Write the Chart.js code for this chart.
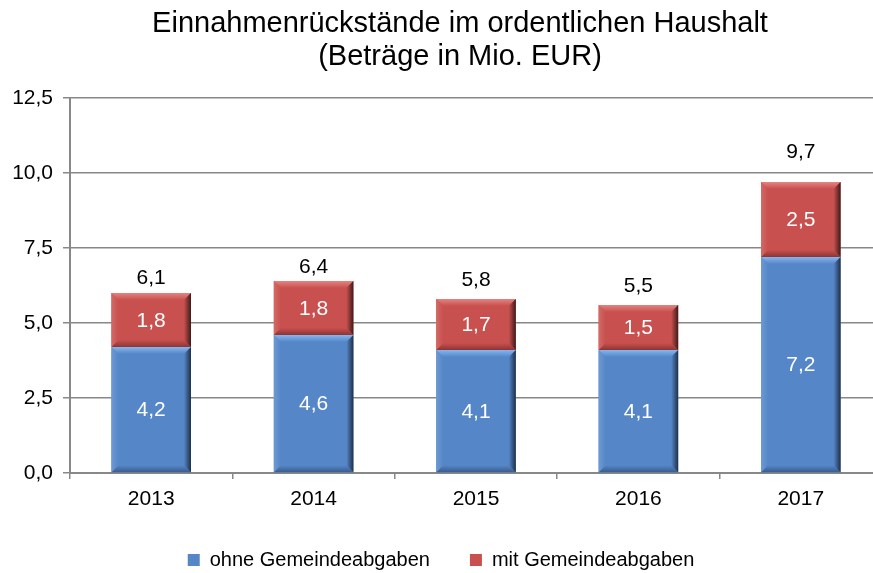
<!DOCTYPE html>
<html>
<head>
<meta charset="utf-8">
<script src="https://cdn.jsdelivr.net/npm/chart.js@4/dist/chart.umd.min.js"></script>
<style>
html,body{margin:0;padding:0;background:#fff;overflow:hidden;width:873px;height:573px;}
#wrap{position:absolute;left:0;top:0;width:884px;height:580px;}
</style>
</head>
<body>
<div id="wrap"><canvas id="c" width="884" height="580"></canvas></div>
<script>
const categories = ['2013', '2014', '2015', '2016', '2017'];
const ohneGemeindeabgaben = [4.2, 4.6, 4.1, 4.1, 7.2];
const mitGemeindeabgaben = [1.8, 1.8, 1.7, 1.5, 2.5];
const totals = [6.1, 6.4, 5.8, 5.5, 9.7];
const seriesNames = ['ohne Gemeindeabgaben', 'mit Gemeindeabgaben'];
const titleLines = ['Einnahmenrückstände im ordentlichen Haushalt', '(Beträge in Mio. EUR)'];
const yTicks = [0, 2.5, 5, 7.5, 10, 12.5];

const FONT = '"Liberation Sans", Arial, sans-serif';
const fmt = v => v.toFixed(1).replace('.', ',');

const faces = ['#5586C8', '#C8504E'];
const bevels = [
  {top:'#86B6F0', left:'#6E9AD2', right:'#1F2F47', bottom:'#3A5C8C'},
  {top:'#E58480', left:'#D26A66', right:'#3E1A19', bottom:'#8C3533'}
];

const bevelPlugin = {
  id: 'bevel',
  afterDatasetsDraw(chart) {
    const ctx = chart.ctx;
    chart.data.datasets.forEach((ds, di) => {
      const meta = chart.getDatasetMeta(di);
      const bv = bevels[di];
      meta.data.forEach(el => {
        const p = el.getProps(['x','y','base','width'], true);
        const l = p.x - p.width/2, r = p.x + p.width/2;
        const t = Math.min(p.y, p.base), bt = Math.max(p.y, p.base);
        const b = 7;
        const poly = (pts, fill) => {
          ctx.beginPath();
          ctx.moveTo(pts[0][0], pts[0][1]);
          for (let i = 1; i < pts.length; i++) ctx.lineTo(pts[i][0], pts[i][1]);
          ctx.closePath();
          ctx.fillStyle = fill;
          ctx.fill();
        };
        ctx.save();
        let g = ctx.createLinearGradient(0, t, 0, t + b);
        g.addColorStop(0, bv.top); g.addColorStop(1, faces[di]);
        poly([[l,t],[r,t],[r-b,t+b],[l+b,t+b]], g);
        g = ctx.createLinearGradient(0, bt - b, 0, bt);
        g.addColorStop(0, faces[di]); g.addColorStop(1, bv.bottom);
        poly([[l,bt],[r,bt],[r-b,bt-b],[l+b,bt-b]], g);
        g = ctx.createLinearGradient(l, 0, l + b, 0);
        g.addColorStop(0, bv.left); g.addColorStop(1, faces[di]);
        poly([[l,t],[l+b,t+b],[l+b,bt-b],[l,bt]], g);
        g = ctx.createLinearGradient(r - b, 0, r, 0);
        g.addColorStop(0, faces[di]); g.addColorStop(1, bv.right);
        poly([[r,t],[r-b,t+b],[r-b,bt-b],[r,bt]], g);
        ctx.restore();
      });
    });
  }
};

const labelsPlugin = {
  id: 'vlabels',
  afterDatasetsDraw(chart, args, opts) {
    const ctx = chart.ctx;
    const gaps = opts.gaps || [];
    ctx.save();
    ctx.font = '21px ' + FONT;
    ctx.textAlign = 'center';
    ctx.textBaseline = 'middle';
    chart.data.datasets.forEach((ds, di) => {
      const meta = chart.getDatasetMeta(di);
      meta.data.forEach((el, i) => {
        const p = el.getProps(['x','y','base'], true);
        ctx.fillStyle = '#ffffff';
        ctx.fillText(fmt(ds.data[i]), p.x, (p.y + p.base) / 2 + 1);
      });
    });
    const top = chart.getDatasetMeta(chart.data.datasets.length - 1);
    top.data.forEach((el, i) => {
      const p = el.getProps(['x','y'], true);
      ctx.fillStyle = '#000000';
      ctx.fillText(fmt(totals[i]), p.x, p.y - (gaps[i] != null ? gaps[i] : 18));
    });
    ctx.restore();
  }
};

const titlePlugin = {
  id: 'customTitle',
  afterDraw(chart) {
    const ctx = chart.ctx;
    ctx.save();
    ctx.font = '29px ' + FONT;
    ctx.fillStyle = '#000';
    ctx.textAlign = 'center';
    ctx.textBaseline = 'middle';
    ctx.fillText(titleLines[0], 460, 24);
    ctx.fillText(titleLines[1], 460, 57);
    ctx.restore();
  }
};

new Chart(document.getElementById('c'), {
  type: 'bar',
  data: {
    labels: categories,
    datasets: [
      {label: seriesNames[0], data: ohneGemeindeabgaben, backgroundColor: faces[0], borderWidth: 0},
      {label: seriesNames[1], data: mitGemeindeabgaben, backgroundColor: faces[1], borderWidth: 0}
    ]
  },
  options: {
    responsive: false,
    animation: false,
    devicePixelRatio: 1,
    layout: {padding: {top: 98, right: 2, bottom: 0, left: 0}},
    datasets: {bar: {categoryPercentage: 1, barPercentage: 0.49}},
    plugins: {
      title: {display: false},
      tooltip: {enabled: false},
      vlabels: {gaps: [15, 14, 19, 19, 30]},
      legend: {
        position: 'bottom',
        labels: {
          font: {family: FONT, size: 20},
          color: '#000',
          boxWidth: 12,
          boxHeight: 12,
          padding: 40
        }
      }
    },
    scales: {
      x: {
        stacked: true,
        grid: {display: true, drawOnChartArea: false, drawTicks: true, tickLength: 6, offset: true, color: '#888', lineWidth: 1.5},
        border: {display: true, color: '#888', width: 2},
        ticks: {font: {family: FONT, size: 21}, color: '#000', padding: 8},
        afterFit(scale) { scale.height = 37; }
      },
      y: {
        stacked: true,
        min: 0, max: 12.5,
        afterBuildTicks(scale) { scale.ticks = yTicks.map(v => ({value: v})); },
        grid: {color: '#888', lineWidth: 1.5, tickLength: 7},
        border: {display: true, color: '#888', width: 2},
        ticks: {font: {family: FONT, size: 21}, color: '#000', padding: 10, callback: v => fmt(v)},
        afterFit(scale) { scale.width = 70; }
      }
    }
  },
  plugins: [bevelPlugin, labelsPlugin, titlePlugin]
});
</script>
</body>
</html>
